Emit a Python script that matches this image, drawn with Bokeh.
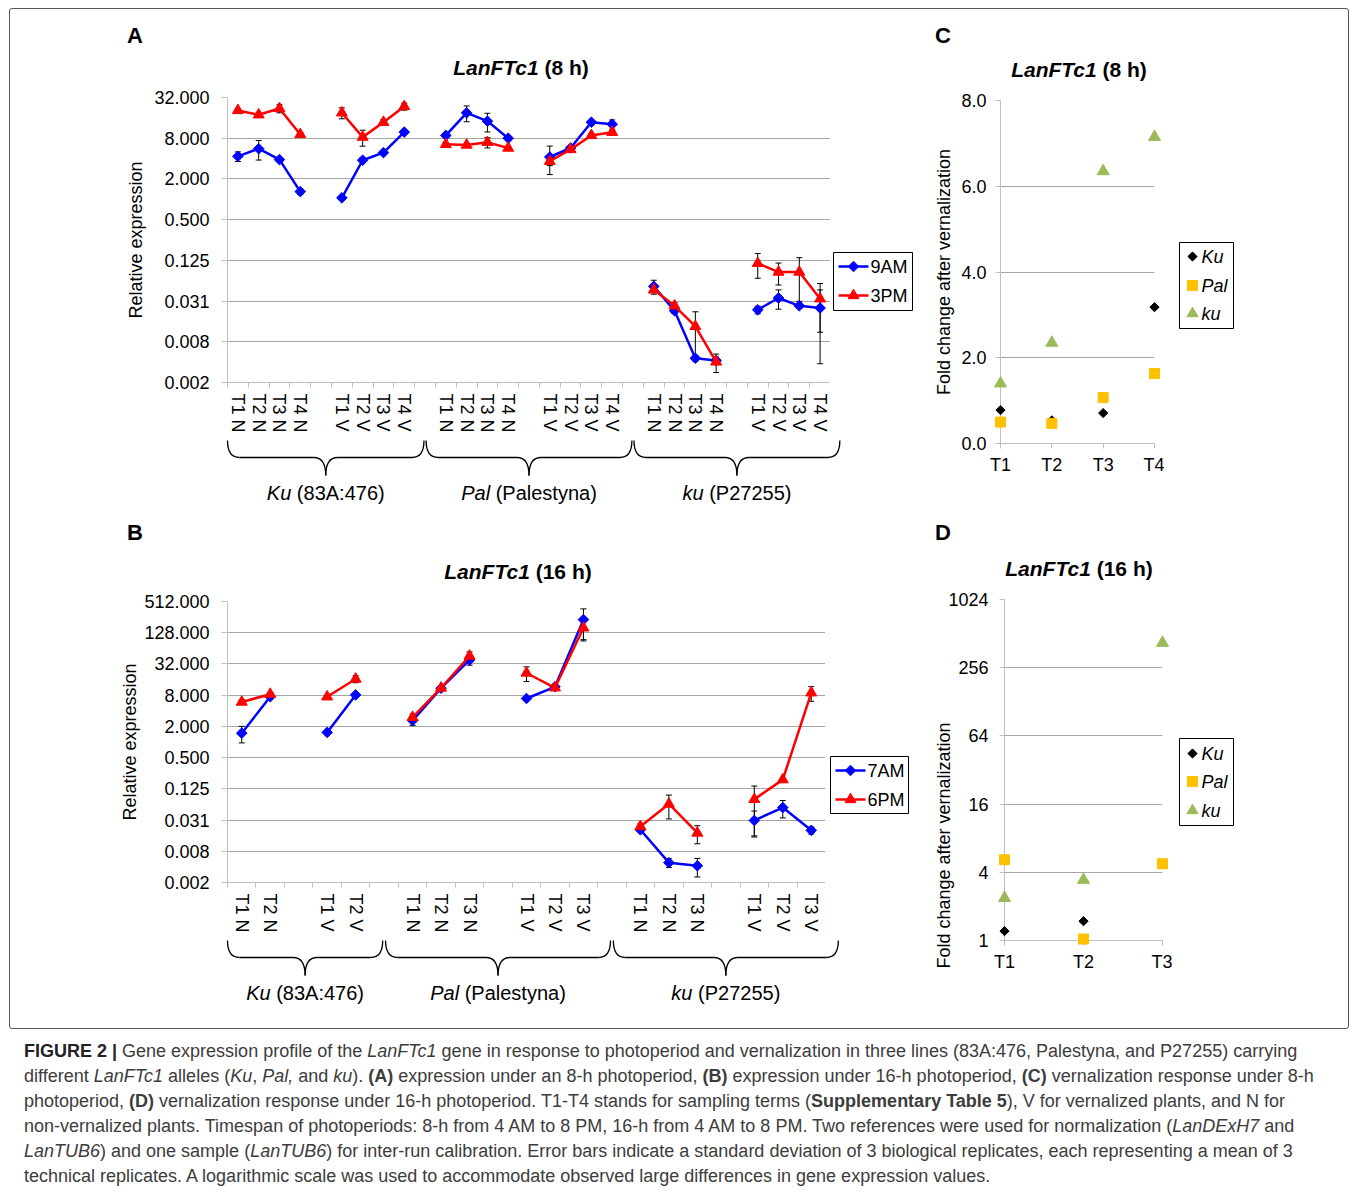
import numpy as np
from bokeh.plotting import figure
from bokeh.models import (ColumnDataSource, Range1d, FixedTicker, CustomJSTickFormatter,
                          Whisker, TeeHead, Div, Spacer)
from bokeh.layouts import column, row
from bokeh.core.properties import value
from bokeh.embed import file_html
from bokeh.resources import INLINE

FONT = "Liberation Sans"
BLUE = "#0000FF"
RED = "#FF0000"
GRID = "#a6a6a6"
AXIS = "#bfbfbf"
KU_C = "#000000"
PAL_C = "#FFC000"
KUR_C = "#9BBB59"

# ---------------- shared category info ----------------
line_names = ["Ku", "Pal", "ku"]
line_codes = ["(83A:476)", "(Palestyna)", "(P27255)"]
treatments = ["N", "V"]

# ---------------- panel A: LanFTc1 (8 h) ----------------
# blocks: Ku N, Ku V, Pal N, Pal V, ku N, ku V  (terms T1..T4 each)
a_block_sizes = [4, 4, 4, 4, 4, 4]
a_9am = [4.32, 5.6, 3.86, 1.30, 1.05, 3.78, 4.9, 9.85,
         8.8, 19.0, 14.3, 8.0, 4.22, 5.73, 13.8, 12.9,
         0.0515, 0.0225, 0.00446, 0.00413, 0.0232, 0.0347, 0.0266, 0.0247]
a_9am_sd = [0.7, 1.8, 0.25, 0.12, 0.06, 0.3, 0.3, 0.5,
            0.6, 5.0, 4.4, 0.4, 1.9, 0.3, 0.6, 2.0,
            0.012, 0.002, 0.0004, 0.0005, 0.003, 0.011, 0.002, 0.021]
a_3pm = [20.6, 17.8, 22.0, 9.1, 19.0, 8.3, 13.8, 23.6,
         6.5, 6.35, 6.95, 5.73, 3.65, 5.47, 8.8, 9.8,
         0.0458, 0.0266, 0.0132, 0.00394, 0.113, 0.084, 0.084, 0.0338]
a_3pm_sd = [1.0, 1.0, 3.0, 0.5, 3.5, 2.2, 1.2, 2.8,
            0.4, 0.4, 1.2, 0.3, 0.5, 0.4, 0.5, 0.6,
            0.004, 0.003, 0.0085, 0.0012, 0.045, 0.03, 0.053, 0.023]

# ---------------- panel B: LanFTc1 (16 h) ----------------
b_block_sizes = [2, 2, 3, 3, 3, 3]
b_7am = [1.48, 7.45, 1.53, 8.1,
         2.59, 10.9, 38.3, 6.9, 11.6, 229.0,
         0.0203, 0.00471, 0.0041, 0.0307, 0.0544, 0.0198]
b_7am_sd = [0.52, 0.5, 0.1, 0.4,
            0.5, 1.0, 8.0, 0.4, 1.0, 140.0,
            0.002, 0.0009, 0.0016, 0.016, 0.02, 0.003]
b_6pm = [5.9, 8.36, 7.45, 16.4,
         3.0, 11.0, 45.6, 21.4, 11.1, 159.0,
         0.0235, 0.0638, 0.0176, 0.0785, 0.188, 8.9]
b_6pm_sd = [0.6, 0.6, 0.5, 2.5,
            0.45, 1.2, 9.0, 6.7, 1.0, 65.0,
            0.003, 0.031, 0.0067, 0.063, 0.01, 2.8]

# ---------------- panel C: fold change (8 h) ----------------
c_terms = ["T1", "T2", "T3", "T4"]
c_Ku = [0.78, 0.54, 0.71, 3.18]
c_Pal = [0.50, 0.47, 1.07, 1.63]
c_ku = [1.40, 2.35, 6.35, 7.15]

# ---------------- panel D: fold change (16 h) ----------------
d_terms = ["T1", "T2", "T3"]
d_Ku = [1.21, 1.48, float("nan")]
d_Pal = [5.16, 1.03, 4.76]
d_ku = [2.37, 3.43, 424.0]

# Helvetica/Arial advance widths (per 1000 em) for label centring
HELV = {' ': 278, '(': 333, ')': 333, ':': 278, 'A': 667, 'K': 667, 'P': 667,
        'a': 556, 'e': 556, 'k': 500, 'l': 222, 'n': 556, 's': 500, 't': 278,
        'u': 556, 'y': 500}
for _d in "0123456789":
    HELV[_d] = 556


def text_w(s, size):
    return sum(HELV.get(c, 556) for c in s) * size / 1000.0


def slot_layout(block_sizes):
    nslots = sum(block_sizes) + len(block_sizes) - 1
    slot_labels = [""] * nslots
    xs, starts = [], []
    s = 0
    for b, n in enumerate(block_sizes):
        starts.append(s)
        for t in range(n):
            xs.append(s + 0.5)
            slot_labels[s] = "T%d %s" % (t + 1, treatments[b % 2])
            s += 1
        s += 1
    return xs, slot_labels, nslots, starts


def broken(xs, ys, block_sizes):
    lx, ly, i = [], [], 0
    for n in block_sizes:
        lx += list(xs[i:i + n]) + [np.nan]
        ly += list(ys[i:i + n]) + [np.nan]
        i += n
    return lx, ly


def style_axes(p):
    for ax in p.axis:
        ax.axis_line_color = AXIS
        ax.major_tick_line_color = AXIS
        ax.minor_tick_line_color = AXIS
        ax.major_label_text_font = FONT
        ax.major_label_text_font_size = "18px"
        ax.major_label_text_color = "#000000"
        ax.axis_label_text_font = FONT
        ax.axis_label_text_font_size = "18px"
        ax.axis_label_text_font_style = "normal"
        ax.axis_label_text_color = "#000000"
    p.outline_line_color = None
    p.xgrid.visible = False
    p.ygrid.grid_line_color = GRID
    p.ygrid.grid_line_width = 1


def legend_fig(width, height, box, rows, specs, italic, gx0, gx1, tx):
    """Key box drawn beside a chart, in a small canvas measured in pixels from its top."""
    lf = figure(width=width, height=height, frame_width=width, frame_height=height,
                x_range=Range1d(0, width), y_range=Range1d(height, 0),
                x_axis_location=None, y_axis_location=None, min_border=0,
                toolbar_location=None, output_backend="svg", sizing_mode="fixed")
    lf.outline_line_color = None
    lf.grid.visible = False
    lf.quad(left=[box[0]], right=[box[1]], top=[box[2]], bottom=[box[3]],
            fill_color="#ffffff", line_color="#000000", line_width=1)
    for (label, color, marker, size, angle, with_line), y in zip(specs, rows):
        if with_line:
            lf.segment(x0=[gx0], y0=[y], x1=[gx1], y1=[y], line_color=color, line_width=2.5)
        lf.scatter(x=[(gx0 + gx1) / 2.0], y=[y], marker=marker, size=size, angle=angle,
                   fill_color=color, line_color=color)
        lf.text(x=[tx], y=[y], text=[label], text_font=value(FONT), text_font_size="18px",
                text_font_style="italic" if italic else "normal", text_align="left",
                text_baseline="middle", text_color="#000000")
    return lf


def expr_fig(block_sizes, s1, s1sd, s2, s2sd, names, y_lo, y_hi, fw, fh, mtop, mbot,
             label_standoff, leg_w, leg_box, leg_rows, leg_gx):
    xs, slot_labels, nslots, starts = slot_layout(block_sizes)
    pw = 217 + fw
    h = mtop + fh + mbot
    p = figure(width=pw, height=h, frame_width=fw, frame_height=fh,
               x_range=Range1d(0, nslots),
               y_range=Range1d(2.0 ** y_lo, 2.0 ** y_hi), y_axis_type="log",
               output_backend="svg", toolbar_location=None, sizing_mode="fixed",
               min_border_left=217, min_border_right=0,
               min_border_top=mtop, min_border_bottom=mbot)
    style_axes(p)
    p.yaxis.ticker = FixedTicker(ticks=[2.0 ** k for k in range(y_lo, y_hi + 1, 2)])
    p.yaxis.formatter = CustomJSTickFormatter(code="return tick.toFixed(3);")
    p.yaxis.axis_label = "Relative expression"
    p.yaxis.major_tick_out = 6
    p.yaxis.major_tick_in = 0
    p.yaxis.major_label_standoff = 12
    p.yaxis.axis_label_standoff = label_standoff

    p.xaxis.ticker = FixedTicker(ticks=xs, minor_ticks=list(range(nslots + 1)))
    p.xaxis.formatter = CustomJSTickFormatter(args=dict(labels=slot_labels),
                                              code="return labels[Math.floor(tick)] || '';")
    p.xaxis.major_label_orientation = "vertical"
    p.xaxis.major_tick_out = 0
    p.xaxis.major_tick_in = 0
    p.xaxis.minor_tick_out = 5
    p.xaxis.minor_tick_in = 0
    p.xaxis.major_label_standoff = 6

    specs = []
    for ys, sds, color, name, mk in [(s1, s1sd, BLUE, names[0], "d"), (s2, s2sd, RED, names[1], "t")]:
        src = ColumnDataSource(dict(x=xs, lower=[y - s for y, s in zip(ys, sds)],
                                    upper=[y + s for y, s in zip(ys, sds)]))
        p.add_layout(Whisker(source=src, base="x", lower="lower", upper="upper",
                             dimension="height", line_color="#000000", line_width=1,
                             upper_head=TeeHead(size=6, line_color="#000000", line_width=1),
                             lower_head=TeeHead(size=6, line_color="#000000", line_width=1)))
        lx, ly = broken(xs, ys, block_sizes)
        p.line(lx, ly, line_color=color, line_width=2.5)
        if mk == "d":
            p.scatter(xs, ys, marker="square", angle=np.pi / 4, size=7.5,
                      fill_color=color, line_color=color)
            specs.append((name, color, "square", 7.5, np.pi / 4, True))
        else:
            p.scatter(xs, ys, marker="triangle", size=11, fill_color=color, line_color=color)
            specs.append((name, color, "triangle", 11, 0.0, True))
    lf = legend_fig(leg_w, h, leg_box, leg_rows, specs, False,
                    leg_gx, leg_gx + 30, leg_gx + 32)

    # brace figure below, sharing the x scale
    pb = figure(width=905, height=77, frame_width=fw, frame_height=77,
                x_range=p.x_range, y_range=Range1d(77, 0),
                output_backend="svg", toolbar_location=None, sizing_mode="fixed",
                x_axis_location=None, y_axis_location=None,
                min_border_left=217, min_border_right=905 - 217 - fw,
                min_border_top=0, min_border_bottom=0)
    pb.outline_line_color = None
    pb.grid.visible = False
    px_per = fw / float(nslots)
    r = 12.0 / px_per
    top, mid, tip, lab = 5, 22, 40, 57
    for g in range(3):
        b0, b1 = 2 * g, 2 * g + 1
        x0 = 0.0 if g == 0 else starts[b0] - 0.5 + 0.05
        x1 = (starts[b1] + block_sizes[b1] + 0.5 - 0.05) if g < 2 else nslots + 0.45
        xc = (x0 + x1) / 2.0
        pb.quadratic(x0=[x0, xc - r, xc + r, x1 - r], y0=[top, mid, mid, mid],
                     x1=[x0 + r, xc, xc, x1], y1=[mid, tip, tip, top],
                     cx=[x0, xc, xc, x1], cy=[mid, mid, mid, mid],
                     line_color="#000000", line_width=1.3, level="overlay")
        pb.segment(x0=[x0 + r, xc + r], y0=[mid, mid], x1=[xc - r, x1 - r], y1=[mid, mid],
                   line_color="#000000", line_width=1.3, level="overlay")
        w1 = text_w(line_names[g], 20)
        wsp = text_w(" ", 20)
        W = w1 + wsp + text_w(line_codes[g], 20)
        pb.text(x=[xc], y=[lab], text=[line_names[g]], text_font=value(FONT),
                text_font_style="italic", text_font_size="20px", text_align="left",
                text_baseline="middle", x_offset=-W / 2, text_color="#000000", level="overlay")
        pb.text(x=[xc], y=[lab], text=[line_codes[g]], text_font=value(FONT),
                text_font_size="20px", text_align="left", text_baseline="middle",
                x_offset=-W / 2 + w1 + wsp, text_color="#000000", level="overlay")
    top_row = row(p, lf, spacing=0, margin=0, width=905, height=h, sizing_mode="fixed")
    return top_row, pb


def fold_fig(terms, ku_, pal_, kur_, log, fw, fh, mtop, mbot, mleft, leg_box, leg_rows, leg_gx):
    n = len(terms)
    x = list(range(1, n + 1))
    mright = 10
    pw = mleft + fw + mright
    h = mtop + fh + mbot
    common = dict(width=pw, height=h, frame_width=fw, frame_height=fh,
                  x_range=Range1d(1, n), output_backend="svg", toolbar_location=None,
                  sizing_mode="fixed", min_border_left=mleft, min_border_right=mright,
                  min_border_top=mtop, min_border_bottom=mbot)
    if log:
        p = figure(y_range=Range1d(1, 1024), y_axis_type="log", **common)
    else:
        p = figure(y_range=Range1d(0, 8), **common)
    style_axes(p)
    if log:
        p.yaxis.ticker = FixedTicker(ticks=[1, 4, 16, 64, 256, 1024])
        p.yaxis.formatter = CustomJSTickFormatter(code="return tick.toFixed(0);")
        p.yaxis.major_label_standoff = 11
        p.text(x=[1], y=[6.9], text=["Fold change after vernalization"], angle=np.pi / 2,
               x_offset=-61, text_align="center", text_baseline="middle",
               text_font=value(FONT), text_font_size="18px", text_color="#000000",
               level="overlay")
    else:
        p.yaxis.ticker = FixedTicker(ticks=[0, 2, 4, 6, 8])
        p.yaxis.formatter = CustomJSTickFormatter(code="return tick.toFixed(1);")
        p.yaxis.major_label_standoff = 9
        p.yaxis.axis_label = "Fold change after vernalization"
        p.yaxis.axis_label_standoff = 4
    p.yaxis.major_tick_out = 5
    p.yaxis.major_tick_in = 0
    p.xaxis.ticker = FixedTicker(ticks=x)
    p.xaxis.formatter = CustomJSTickFormatter(args=dict(labels=terms),
                                              code="return labels[Math.round(tick) - 1] || '';")
    p.xaxis.major_tick_out = 5
    p.xaxis.major_tick_in = 0
    p.xaxis.major_label_standoff = 6

    p.scatter(x, ku_, marker="square", angle=np.pi / 4, size=6.5,
              fill_color=KU_C, line_color=KU_C, level="overlay")
    p.scatter(x, pal_, marker="square", size=10, fill_color=PAL_C, line_color=PAL_C,
              level="overlay")
    p.scatter(x, kur_, marker="triangle", size=12, fill_color=KUR_C, line_color=KUR_C,
              level="overlay")
    specs = [(line_names[0], KU_C, "square", 6.5, np.pi / 4, False),
             (line_names[1], PAL_C, "square", 10, 0.0, False),
             (line_names[2], KUR_C, "triangle", 11, 0.0, False)]
    lf = legend_fig(433 - pw, h, leg_box, leg_rows, specs, True, leg_gx, leg_gx + 14, leg_gx + 16)
    return row(p, lf, spacing=0, margin=0, width=433, height=h, sizing_mode="fixed")


def header(w, h, letter, lx, ly, t_it, t_rest, tx, ty):
    html = ('<div style="position:relative;width:%dpx;height:%dpx;font-family:\'Liberation Sans\',Arial,sans-serif;color:#000;">'
            '<div style="position:absolute;left:%dpx;top:%dpx;width:40px;line-height:24px;text-align:center;font-weight:bold;font-size:22px;">%s</div>'
            '<div style="position:absolute;left:%dpx;top:%dpx;width:400px;line-height:24px;text-align:center;font-weight:bold;font-size:21px;white-space:nowrap;"><i>%s</i>%s</div>'
            '</div>') % (w, h, lx - 20, ly - 12, letter, tx - 200, ty - 12, t_it, t_rest)
    return Div(text=html, width=w, height=h, margin=0, sizing_mode="fixed")


rowA, bA = expr_fig(a_block_sizes, a_9am, a_9am_sd, a_3pm, a_3pm_sd, ["9AM", "3PM"],
                    -9, 5, 603, 286, 17, 52, 5, 85, (3, 82, 155, 213), [169, 198], 8)
rowB, bB = expr_fig(b_block_sizes, b_7am, b_7am_sd, b_6pm, b_6pm_sd, ["7AM", "6PM"],
                    -9, 9, 598, 284, 16, 50, 1, 90, (5, 83, 155, 212), [169, 198], 10)
rowC = fold_fig(c_terms, c_Ku, c_Pal, c_ku, False, 154, 343, 18, 47, 85,
                (15, 69, 142, 228), [156, 185, 213], 21)
rowD = fold_fig(d_terms, d_Ku, d_Pal, d_ku, True, 158, 341, 19, 50, 89,
                (7, 61, 139, 226), [154, 182, 211], 13)

hA = header(905, 71, "A", 125, 27, "LanFTc1", " (8 h)", 511, 59)
hB = header(905, 73, "B", 125, 21, "LanFTc1", " (16 h)", 508, 60)
hC = header(433, 73, "C", 28, 27, "LanFTc1", " (8 h)", 164, 61)
hD = header(433, 90, "D", 28, 43, "LanFTc1", " (16 h)", 164, 79)

left = column(hA, rowA, bA, hB, rowB, bB, Spacer(width=905, height=16, sizing_mode="fixed"),
              spacing=0, margin=0, width=905, height=1019, sizing_mode="fixed")
right = column(hC, rowC, hD, rowD, Spacer(width=433, height=38, sizing_mode="fixed"),
               spacing=0, margin=0, width=433, height=1019, sizing_mode="fixed")
framed = row(left, right, spacing=0, margin=(8, 0, 0, 9), width=1340, height=1021,
             sizing_mode="fixed",
             styles={"border": "1px solid #555555", "border-radius": "3px",
                     "box-sizing": "border-box"})

cap_html = (
    '<div style="padding:10px 0 0 24px;font-family:\'Liberation Sans\',Arial,sans-serif;'
    'font-size:18px;line-height:25px;color:#3c3c3c;white-space:nowrap;">'
    '<b style="color:#222">FIGURE 2 |</b> Gene expression profile of the <i>LanFTc1</i> gene in response to photoperiod and vernalization in three lines (83A:476, Palestyna, and P27255) carrying<br>'
    'different <i>LanFTc1</i> alleles (<i>Ku</i>, <i>Pal,</i> and <i>ku</i>). <b>(A)</b> expression under an 8-h photoperiod, <b>(B)</b> expression under 16-h photoperiod, <b>(C)</b> vernalization response under 8-h<br>'
    'photoperiod, <b>(D)</b> vernalization response under 16-h photoperiod. T1-T4 stands for sampling terms (<b>Supplementary Table 5</b>), V for vernalized plants, and N for<br>'
    'non-vernalized plants. Timespan of photoperiods: 8-h from 4 AM to 8 PM, 16-h from 4 AM to 8 PM. Two references were used for normalization (<i>LanDExH7</i> and<br>'
    '<i>LanTUB6</i>) and one sample (<i>LanTUB6</i>) for inter-run calibration. Error bars indicate a standard deviation of 3 biological replicates, each representing a mean of 3<br>'
    'technical replicates. A logarithmic scale was used to accommodate observed large differences in gene expression values.'
    '</div>')
cap = Div(text=cap_html, width=1357, height=160, margin=0, sizing_mode="fixed")

root = column(framed, cap, spacing=0, margin=0, width=1357, height=1189, sizing_mode="fixed")
open("out.html", "w").write(file_html(root, INLINE))
